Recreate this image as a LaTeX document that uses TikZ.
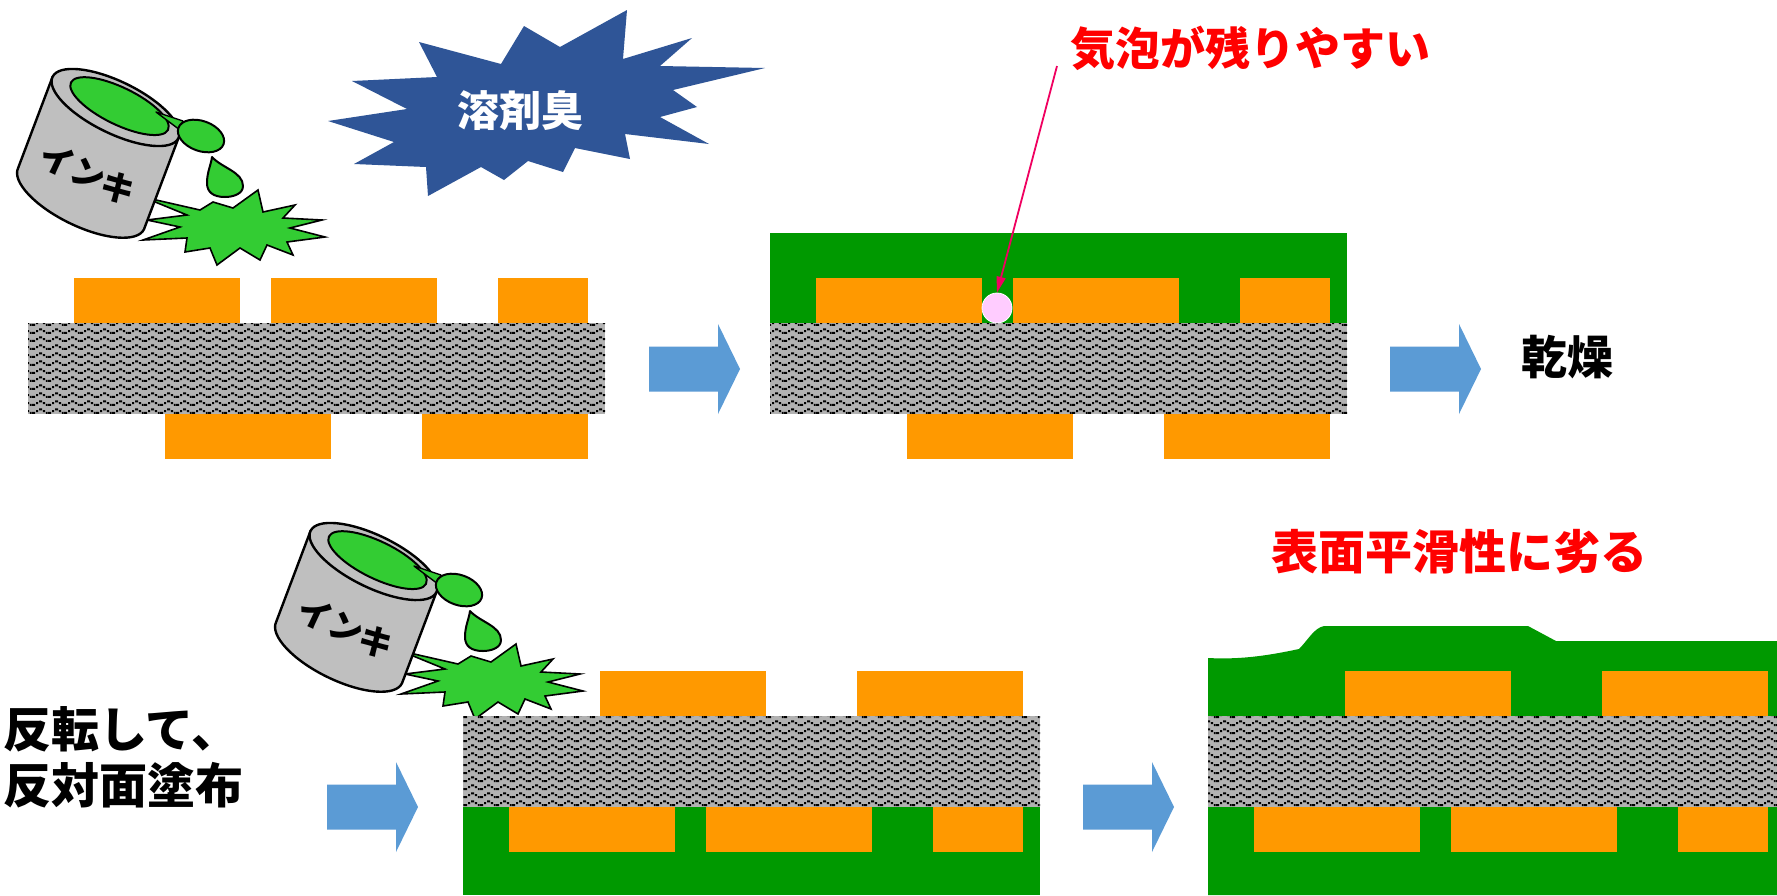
\documentclass[tikz,border=0pt]{standalone}
\usepackage{fontspec}
\newfontfamily\jp{Noto Sans CJK JP}
\usetikzlibrary{patterns,arrows.meta}

\definecolor{padorange}{HTML}{FF9900}
\definecolor{maskgreen}{HTML}{009900}
\definecolor{inkgreen}{HTML}{33CC33}
\definecolor{flowblue}{HTML}{5B9BD5}
\definecolor{burstblue}{HTML}{2F5597}
\definecolor{basegray}{HTML}{B2B2B2}
\definecolor{cangray}{HTML}{BFBFBF}
\definecolor{leadpink}{HTML}{F00060}
\definecolor{bubblepink}{HTML}{FFCCFF}
\definecolor{notered}{HTML}{FF0000}

% woven glass-epoxy texture of the core
\pgfdeclarepatternformonly{weave}{\pgfqpoint{-0.1pt}{-0.1pt}}{\pgfqpoint{16.1pt}{8.1pt}}{\pgfqpoint{16pt}{8pt}}{%
  \pgfpathrectangle{\pgfqpoint{0pt}{1pt}}{\pgfqpoint{3pt}{2pt}}%
  \pgfpathrectangle{\pgfqpoint{4pt}{2.8pt}}{\pgfqpoint{2.2pt}{2pt}}%
  \pgfpathrectangle{\pgfqpoint{7pt}{4.6pt}}{\pgfqpoint{3pt}{2pt}}%
  \pgfpathrectangle{\pgfqpoint{10.8pt}{2.8pt}}{\pgfqpoint{2.2pt}{2pt}}%
  \pgfpathrectangle{\pgfqpoint{13.8pt}{1pt}}{\pgfqpoint{1.8pt}{2pt}}%
  \pgfusepath{fill}}

\tikzset{
  pad/.style={fill=padorange},
  mask/.style={fill=maskgreen},
  inkfill/.style={fill=inkgreen, draw=black, line width=2, line join=round},
  jplabel/.style={inner sep=0pt, align=left},
}

% core laminate, 577 x 91
\newcommand\corelayer[2]{%
  \fill[basegray] (#1,#2) rectangle (#1+577,#2+91);
  \fill[pattern=weave, pattern color=black] (#1,#2) rectangle (#1+577,#2+91);}
% three copper pads
\newcommand\padsthree[2]{%
  \fill[pad] (#1+46,#2) rectangle (#1+212,#2+45);
  \fill[pad] (#1+243,#2) rectangle (#1+409,#2+45);
  \fill[pad] (#1+470,#2) rectangle (#1+560,#2+45);}
% two copper pads
\newcommand\padstwo[2]{%
  \fill[pad] (#1+137,#2) rectangle (#1+303,#2+45);
  \fill[pad] (#1+394,#2) rectangle (#1+560,#2+45);}
% block arrow: left end x, centre y
\newcommand\flowarrow[2]{%
  \fill[flowblue] (#1,#2-22.5) -- (#1+69,#2-22.5) -- (#1+69,#2-45) -- (#1+91,#2)
    -- (#1+69,#2+45) -- (#1+69,#2+22.5) -- (#1,#2+22.5) -- cycle;}
% tilted ink can pouring onto a splash
\newcommand\inkcan[1]{%
  \filldraw[fill=inkgreen, draw=black, line width=1.6, line join=miter]
    (258,190) -- (263,212) -- (295,205) -- (283,218) -- (322,220) -- (290,228)
    -- (325,237) -- (287,242) -- (293,255) -- (267,245) -- (260,260) -- (240,248)
    -- (217,265) -- (210,248) -- (185,252) -- (187,238) -- (143,240) -- (180,227)
    -- (147,220) -- (187,215) -- (143,197) -- (200,210) -- (213,202) -- (233,208) -- cycle;
  \begin{scope}[shift={(115.5,107.5)}, rotate=-26]
    \filldraw[fill=cangray, draw=black, line width=2.4, line join=round]
      (-70,0) -- (-61,97) arc[start angle=180, end angle=0, x radius=70, y radius=27] -- (70,0) -- cycle;
    \filldraw[fill=cangray, draw=black, line width=2.4] (0,0) ellipse[x radius=70, y radius=26];
    \filldraw[inkfill] (3,-3) ellipse[x radius=54, y radius=18.5];
  \end{scope}
  \filldraw[fill=inkgreen, draw=black, line width=1.4, line join=round] (156,112) -- (183,121) -- (180,130) -- cycle;
  \filldraw[inkfill, rotate around={-20:(201,136)}] (201,136) ellipse[x radius=24, y radius=15];
  \filldraw[inkfill] (212,157) .. controls (222,168) and (243,172) .. (243,186)
    .. controls (243,194) and (233,197) .. (225,197)
    .. controls (213,197) and (207,192) .. (207,183)
    .. controls (207,172) and (211,165) .. cycle;
  \node[jplabel, rotate=-25, font={\jp\bfseries\fontsize{34}{34}\selectfont}] (canlabel#1) at (88,174) {インキ};
}

\begin{document}
\begin{tikzpicture}[x=1pt, y=-1pt]
  \useasboundingbox (0,0) rectangle (1777,895);
  \fill[white] (0,0) rectangle (1777,895);
  \clip (0,0) rectangle (1777,895);

  % solvent odour burst
  \fill[burstblue] (627,10) -- (623,59) -- (692,38) -- (660,66) -- (765,68) -- (673,90)
    -- (697,107) -- (660,117) -- (709,144) -- (625,134) -- (630,159) -- (575,148)
    -- (563,172) -- (528,161) -- (504,180) -- (481,167) -- (428,196) -- (426,167)
    -- (354,164) -- (394,142) -- (328,121) -- (407,109) -- (352,81) -- (437,77)
    -- (419,42) -- (501,64) -- (524,26) -- (560,47) -- cycle;
  \node[jplabel, text=white, font={\jp\bfseries\fontsize{42}{42}\selectfont}] (odour) at (520,111) {溶剤臭};

  % step 1: ink poured on the first side
  \inkcan{1}
  \padsthree{28}{278}
  \corelayer{28}{323}
  \padstwo{28}{414}

  \flowarrow{649}{369}

  % step 2: first side coated, air trapped between pads
  \fill[mask] (770,233) rectangle (1347,323);
  \padsthree{770}{278}
  \corelayer{770}{323}
  \padstwo{770}{414}
  \node[circle, fill=bubblepink, draw=white, line width=0.8, minimum size=30, inner sep=0pt] (bubble) at (997,308) {};
  \node[jplabel, text=notered, font={\jp\bfseries\fontsize{45}{45}\selectfont}] (bubblenote) at (1250,48) {気泡が残りやすい};
  \coordinate (bubbletail) at (1057,66);
  \draw[leadpink, line width=1.8, -{Triangle[length=16pt, width=9pt]}] (bubbletail) -- (bubble.north);

  \flowarrow{1390}{369}
  \node[jplabel, font={\jp\bfseries\fontsize{46}{46}\selectfont}] (dry) at (1567,357) {乾燥};

  % step 3: board turned over, second side coated
  \node[jplabel, font={\jp\bfseries\fontsize{48}{56}\selectfont}] (turnover) at (123,757) {反転して、\\反対面塗布};
  \flowarrow{327}{807}
  \begin{scope}[shift={(258,454)}]
    \inkcan{2}
  \end{scope}
  \padstwo{463}{671}
  \fill[mask] (463,807) rectangle (1040,895);
  \corelayer{463}{716}
  \padsthree{463}{807}

  \flowarrow{1083}{807}

  % step 4: uneven surface after the second coat
  \fill[mask] (1208,658) .. controls (1245,660) and (1275,654) .. (1299,649)
    .. controls (1308,640) and (1314,628) .. (1324,626) -- (1528,626) -- (1556,641)
    -- (1790,641) -- (1790,895) -- (1208,895) -- cycle;
  \padstwo{1208}{671}
  \corelayer{1208}{716}
  \padsthree{1208}{807}
  \node[jplabel, text=notered, font={\jp\bfseries\fontsize{47}{47}\selectfont}] (roughnote) at (1459,552) {表面平滑性に劣る};
\end{tikzpicture}
\end{document}
